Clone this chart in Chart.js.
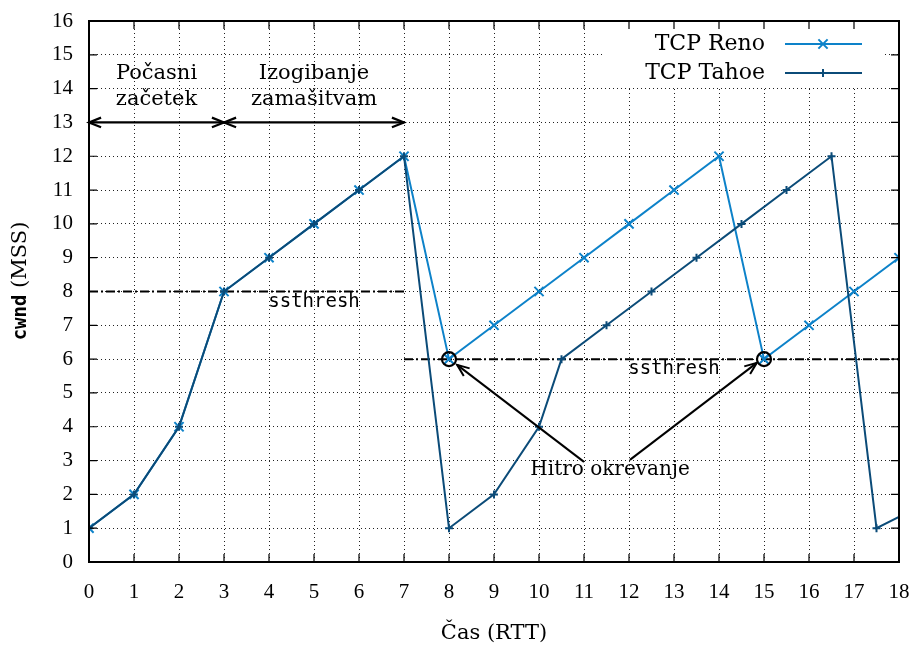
<!DOCTYPE html>
<html lang="sl">
<head>
  <meta charset="UTF-8">
  <title>TCP Reno in TCP Tahoe</title>
  <script src="https://cdn.jsdelivr.net/npm/chart.js"></script>
  <style>
    html, body {
      margin: 0;
      padding: 0;
      background: #fff;
    }
    #wrap {
      width: 916px;
      height: 647px;
    }
  </style>
</head>
<body>
  <div id="wrap">
    <canvas id="cwnd-chart" width="916" height="647"></canvas>
  </div>

  <script>
    // cas v RTT, cwnd v MSS
    const timeTicks = [0, 1, 2, 3, 4, 5, 6, 7, 8, 9, 10, 11, 12, 13, 14, 15, 16, 17, 18];
    const cwndTicks = [0, 1, 2, 3, 4, 5, 6, 7, 8, 9, 10, 11, 12, 13, 14, 15, 16];

    const renoTime = [0, 1, 2, 3, 4, 5, 6, 7, 8, 9, 10, 11, 12, 13, 14, 15, 16, 17, 18];
    const renoCwnd = [1, 2, 4, 8, 9, 10, 11, 12, 6, 7, 8, 9, 10, 11, 12, 6, 7, 8, 9];

    const tahoeTime = [0, 1, 2, 3, 4, 5, 6, 7, 8, 9, 10, 10.5, 11.5, 12.5, 13.5, 14.5, 15.5, 16.5, 17.5, 19];
    const tahoeCwnd = [1, 2, 4, 8, 9, 10, 11, 12, 1, 2, 4, 6, 7, 8, 9, 10, 11, 12, 1, 2];

    // pragovi ssthresh: [od, do, vrednost]
    const ssthreshSegments = [[0, 7, 8], [7, 18, 6]];
    const ssthreshLabels = [[5, 7.7], [13, 5.7]];

    // faze na zacetku
    const phaseBounds = [0, 3, 7];
    const phaseLevel = 13;
    const phaseLabels = [['Počasni', 'začetek'], ['Izogibanje', 'zamašitvam']];
    const phaseLabelLevel = 14.45;

    // hitro okrevanje
    const recoveryPoints = [[8, 6], [15, 6]];
    const recoveryText = 'Hitro okrevanje';
    const recoveryTextAt = [11.58, 2.72];
    const recoveryArrows = [[11.0, 2.96, 8.18, 5.83], [12.02, 3.02, 14.84, 5.89]];

    const RENO_COLOR = '#0d82c9';
    const TAHOE_COLOR = '#0b4b78';
    const SERIF = '"DejaVu Serif", serif';
    const DIGITS = '"Liberation Serif", serif';
    const MONO = '"DejaVu Sans Mono", monospace';

    function toPoints(xs, ys) {
      return xs.map((x, i) => ({ x: x, y: ys[i] }));
    }

    function arrowHead(ctx, x, y, angle) {
      const len = 13, spread = 0.38;
      ctx.beginPath();
      ctx.moveTo(x - len * Math.cos(angle - spread), y - len * Math.sin(angle - spread));
      ctx.lineTo(x, y);
      ctx.lineTo(x - len * Math.cos(angle + spread), y - len * Math.sin(angle + spread));
      ctx.stroke();
    }

    function arrow(ctx, x1, y1, x2, y2, both) {
      ctx.beginPath();
      ctx.moveTo(x1, y1);
      ctx.lineTo(x2, y2);
      ctx.stroke();
      const a = Math.atan2(y2 - y1, x2 - x1);
      arrowHead(ctx, x2, y2, a);
      if (both) arrowHead(ctx, x1, y1, a + Math.PI);
    }

    // brez dodatnega roba zaradi napisov na oseh
    function noScalePadding(s) {
      s.paddingLeft = s.paddingRight = s.paddingTop = s.paddingBottom = 0;
    }

    const behindPlugin = {
      id: 'behind',
      beforeDatasetsDraw(chart) {
        const ctx = chart.ctx;
        const xs = chart.scales.x, ys = chart.scales.y;
        ctx.save();
        ctx.strokeStyle = '#000';
        ctx.lineWidth = 2;
        ctx.setLineDash([9, 3, 2, 3]);
        ssthreshSegments.forEach(([from, to, level]) => {
          ctx.beginPath();
          ctx.moveTo(xs.getPixelForValue(from), ys.getPixelForValue(level));
          ctx.lineTo(xs.getPixelForValue(to), ys.getPixelForValue(level));
          ctx.stroke();
        });
        ctx.restore();
      }
    };

    const overlayPlugin = {
      id: 'overlay',
      afterDatasetsDraw(chart) {
        const ctx = chart.ctx;
        const xs = chart.scales.x, ys = chart.scales.y;
        const px = v => xs.getPixelForValue(v);
        const py = v => ys.getPixelForValue(v);
        const area = chart.chartArea;

        ctx.save();
        ctx.fillStyle = '#000';
        ctx.strokeStyle = '#000';

        // ssthresh napisi
        ctx.font = '19px ' + MONO;
        ctx.textAlign = 'center';
        ctx.textBaseline = 'middle';
        ssthreshLabels.forEach(([x, y]) => ctx.fillText('ssthresh', px(x), py(y)));

        // faze s puscicami
        ctx.lineWidth = 2.2;
        for (let i = 0; i < phaseBounds.length - 1; i++) {
          arrow(ctx, px(phaseBounds[i]), py(phaseLevel), px(phaseBounds[i + 1]), py(phaseLevel), true);
          const cx = px((phaseBounds[i] + phaseBounds[i + 1]) / 2);
          ctx.font = '21px ' + SERIF;
          phaseLabels[i].forEach((t, k) => ctx.fillText(t, cx, py(phaseLabelLevel) + k * 26));
        }

        // hitro okrevanje
        ctx.lineWidth = 2.2;
        recoveryPoints.forEach(([x, y]) => {
          ctx.beginPath();
          ctx.arc(px(x), py(y), 7, 0, Math.PI * 2);
          ctx.stroke();
        });
        ctx.lineWidth = 2;
        recoveryArrows.forEach(([x1, y1, x2, y2]) => arrow(ctx, px(x1), py(y1), px(x2), py(y2), false));
        ctx.font = '20px ' + SERIF;
        ctx.fillText(recoveryText, px(recoveryTextAt[0]), py(recoveryTextAt[1]));

        // legenda
        const lx = area.right - 296, ly = area.top + 2;
        ctx.fillStyle = '#fff';
        ctx.fillRect(lx, ly, 280, 64);
        ctx.font = '22px ' + SERIF;
        ctx.textAlign = 'right';
        chart.data.datasets.slice().sort((a, b) => a.legendRank - b.legendRank).forEach((ds, i) => {
          const y = area.top + 23 + i * 29;
          ctx.fillStyle = '#000';
          ctx.fillText(ds.label, area.right - 134, y);
          ctx.strokeStyle = ds.borderColor;
          ctx.lineWidth = 2;
          ctx.beginPath();
          ctx.moveTo(area.right - 114, y);
          ctx.lineTo(area.right - 37, y);
          ctx.stroke();
          Chart.helpers.drawPoint(ctx, {
            pointStyle: ds.pointStyle,
            radius: ds.pointRadius,
            rotation: 0,
            borderWidth: ds.pointBorderWidth
          }, area.right - 76, y);
        });

        // okvir in notranje oznake
        ctx.strokeStyle = '#000';
        ctx.lineWidth = 2;
        ctx.strokeRect(area.left, area.top, area.right - area.left, area.bottom - area.top);
        ctx.lineWidth = 1.2;
        const tick = 8;
        ctx.beginPath();
        timeTicks.forEach(v => {
          const x = px(v);
          ctx.moveTo(x, area.bottom); ctx.lineTo(x, area.bottom - tick);
          ctx.moveTo(x, area.top); ctx.lineTo(x, area.top + tick);
        });
        cwndTicks.forEach(v => {
          const y = py(v);
          ctx.moveTo(area.left, y); ctx.lineTo(area.left + tick, y);
          ctx.moveTo(area.right, y); ctx.lineTo(area.right - tick, y);
        });
        ctx.stroke();

        // naslova osi
        ctx.fillStyle = '#000';
        ctx.textAlign = 'center';
        ctx.font = '21px ' + SERIF;
        ctx.fillText('Čas (RTT)', (area.left + area.right) / 2, 634);

        ctx.translate(21, 281);
        ctx.rotate(-Math.PI / 2);
        ctx.font = 'bold 19px ' + MONO;
        const w1 = ctx.measureText('cwnd').width;
        ctx.font = '21px ' + SERIF;
        const w2 = ctx.measureText(' (MSS)').width;
        ctx.textAlign = 'left';
        ctx.font = 'bold 19px ' + MONO;
        ctx.fillText('cwnd', -(w1 + w2) / 2, 0);
        ctx.font = '21px ' + SERIF;
        ctx.fillText(' (MSS)', -(w1 + w2) / 2 + w1, 0);
        ctx.restore();
      }
    };

    const tickFont = { family: DIGITS, size: 21 };

    new Chart(document.getElementById('cwnd-chart'), {
      type: 'line',
      data: {
        datasets: [
          {
            label: 'TCP Reno',
            legendRank: 0,
            data: toPoints(renoTime, renoCwnd),
            borderColor: RENO_COLOR,
            backgroundColor: RENO_COLOR,
            borderWidth: 2,
            pointStyle: 'crossRot',
            pointRadius: 6.5,
            pointBorderWidth: 2,
            pointBorderColor: RENO_COLOR,
            order: 2
          },
          {
            label: 'TCP Tahoe',
            legendRank: 1,
            data: toPoints(tahoeTime, tahoeCwnd),
            borderColor: TAHOE_COLOR,
            backgroundColor: TAHOE_COLOR,
            borderWidth: 2,
            pointStyle: 'cross',
            pointRadius: 4,
            pointBorderWidth: 2,
            pointBorderColor: TAHOE_COLOR,
            order: 1
          }
        ]
      },
      options: {
        responsive: false,
        animation: false,
        layout: { padding: { top: 21, right: 17, left: 0, bottom: 0 } },
        plugins: {
          legend: { display: false },
          tooltip: { enabled: false }
        },
        scales: {
          x: {
            type: 'linear',
            min: 0,
            max: 18,
            afterFit: s => { s.height = 85; noScalePadding(s); },
            afterBuildTicks: s => { s.ticks = timeTicks.map(v => ({ value: v })); },
            ticks: { font: tickFont, color: '#000', padding: 18, maxRotation: 0 },
            grid: { color: '#222', lineWidth: 1, drawTicks: false },
            border: { display: false, dash: [1, 3] }
          },
          y: {
            min: 0,
            max: 16,
            afterFit: s => { s.width = 89; noScalePadding(s); },
            afterBuildTicks: s => { s.ticks = cwndTicks.map(v => ({ value: v })); },
            ticks: { font: tickFont, color: '#000', padding: 16 },
            grid: { color: '#222', lineWidth: 1, drawTicks: false },
            border: { display: false, dash: [1, 3] }
          }
        }
      },
      plugins: [behindPlugin, overlayPlugin]
    });
  </script>
</body>
</html>
